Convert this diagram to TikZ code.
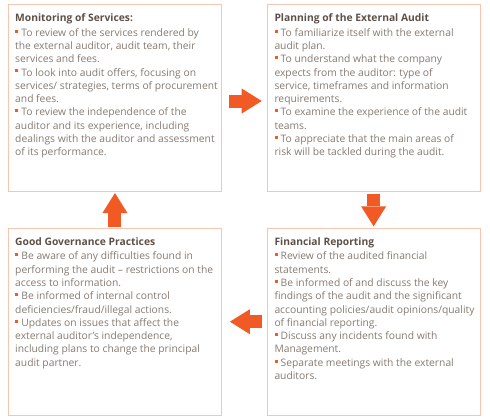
\documentclass[tikz,border=0pt]{standalone}
\usepackage{fontspec}
\setmainfont{Open Sans}
\usetikzlibrary{arrows.meta, positioning, calc}
\definecolor{mPeach}{HTML}{F8C6B0}
\definecolor{mOrange}{HTML}{F15A24}
\definecolor{mTaupe}{HTML}{857A71}
\definecolor{mBrown}{HTML}{5E5047}
\newcommand{\bul}{{\color{mOrange}\rule[3.6pt]{3pt}{3pt}}\hspace{3.2pt}}
\newcommand{\paneltitle}[1]{{\bfseries\color{mBrown}#1}}

\begin{document}
\begin{tikzpicture}[x=1pt, y=1pt,
    panel/.style={draw=mPeach, line width=0.9pt, minimum width=213pt, minimum height=186.5pt, anchor=north west, inner sep=0pt},
    paneltext/.style={anchor=north west, align=left, inner sep=0pt, text=mTaupe, font=\fontsize{10.3}{13.3}\selectfont},
    flow/.style={draw=mOrange, line width=13pt, -{Triangle[length=20pt, width=25pt, line width=0pt]}}]
  \useasboundingbox (0,0) rectangle (490,-420);
  % four panels, clockwise from top left; arrows run between them
  \node[panel] (mon) at (8,-4.3) {};
  \node[panel] (plan) at (266.7,-4.3) {};
  \node[panel] (gov) at (8,-228) {};
  \node[panel] (fin) at (266.7,-228) {};

  \node[paneltext] (montext) at ([xshift=7pt, yshift=-9.5pt]mon.north west) {\paneltitle{Monitoring of Services:}\\[1pt]
    \bul To review of the services rendered by\\
    the external auditor, audit team, their\\
    services and fees.\\
    \bul To look into audit offers, focusing on\\
    services/ strategies, terms of procurement\\
    and fees.\\
    \bul To review the independence of the\\
    auditor and its experience, including\\
    dealings with the auditor and assessment\\
    of its performance.};
  \node[paneltext] (plantext) at ([xshift=7.6pt, yshift=-9.5pt]plan.north west) {\paneltitle{Planning of the External Audit}\\[1pt]
    \bul To familiarize itself with the external\\
    audit plan.\\
    \bul To understand what the company\\
    expects from the auditor: type of\\
    service, timeframes and information\\
    requirements.\\
    \bul To examine the experience of the audit\\
    teams.\\
    \bul To appreciate that the main areas of\\
    risk will be tackled during the audit.};
  \node[paneltext] (govtext) at ([xshift=7pt, yshift=-9.5pt]gov.north west) {\paneltitle{Good Governance Practices}\\[1pt]
    \bul Be aware of any difficulties found in\\
    performing the audit – restrictions on the\\
    access to information.\\
    \bul Be informed of internal control\\
    deficiencies/fraud/illegal actions.\\
    \bul Updates on issues that affect the\\
    external auditor’s independence,\\
    including plans to change the principal\\
    audit partner.};
  \node[paneltext] (fintext) at ([xshift=7.6pt, yshift=-9.5pt]fin.north west) {\paneltitle{Financial Reporting}\\[1pt]
    \bul Review of the audited financial\\
    statements.\\
    \bul Be informed of and discuss the key\\
    findings of the audit and the significant\\
    accounting policies/audit opinions/quality\\
    of financial reporting.\\
    \bul Discuss any incidents found with\\
    Management.\\
    \bul Separate meetings with the external\\
    auditors.};

  \draw[flow, shorten <=7pt, shorten >=5pt] ([yshift=-3pt]mon.east) -- ([yshift=-3pt]plan.west);
  \draw[flow, shorten <=2pt, shorten >=1.6pt] (plan.south) -- (fin.north);
  \draw[flow, shorten <=5pt, shorten >=8pt] (fin.west) -- (gov.east);
  \draw[flow, shorten <=0.6pt, shorten >=1.3pt] (gov.north) -- (mon.south);
\end{tikzpicture}
\end{document}
